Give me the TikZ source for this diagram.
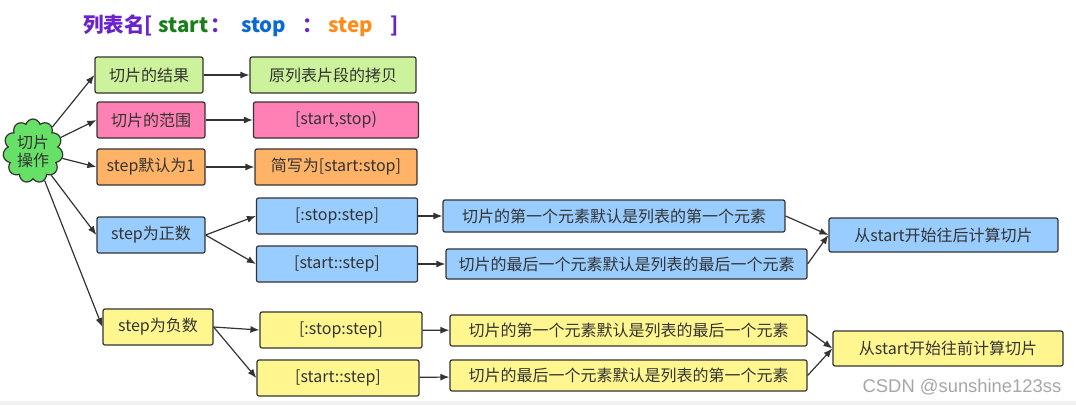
\documentclass[tikz,border=0pt]{standalone}
\usepackage{fontspec}
\setmainfont{Noto Sans CJK SC}
\newfontfamily\wmfont{Liberation Sans}
\usetikzlibrary{arrows.meta,shapes.symbols}
\definecolor{cline}{HTML}{333333}
\definecolor{cgreen}{HTML}{CCF29C}
\definecolor{cpink}{HTML}{FF80B4}
\definecolor{corange}{HTML}{FFB366}
\definecolor{cblue}{HTML}{99CCFF}
\definecolor{cyellow}{HTML}{FFF68F}
\definecolor{ccloud}{HTML}{66E066}
\definecolor{tpurple}{HTML}{6A22CC}
\definecolor{tgreen}{HTML}{1A7F1A}
\definecolor{tblue}{HTML}{0A6AD2}
\definecolor{torange}{HTML}{FF8C1A}

\begin{document}
\begin{tikzpicture}[x=1pt,y=-1pt,
  box/.style={draw=cline,line width=1.2pt,rounded corners=2pt,minimum height=36pt,inner sep=0pt,text=cline,font=\fontsize{16}{18}\selectfont},
  thin box/.style={box,minimum height=32pt},
  arr/.style={-{Latex[length=9pt,width=7pt]},draw=cline,line width=1.2pt}]
\useasboundingbox (0,0) rectangle (1076,405);
\fill[black!5] (0,401) rectangle (1076,405);
\node[anchor=west,inner sep=0pt,font=\fontsize{20.5}{24}\selectfont\bfseries] (T) at (83,26)
  {\color{tpurple}列表名[\hspace{6pt}\color{tgreen}start\hspace{2pt}\color{tpurple}：\hspace{10pt}\color{tblue}stop\hspace{16pt}\color{tpurple}：\hspace{6pt}\color{torange}step\hspace{17pt}\color{tpurple}]};
\node[cloud,cloud puffs=11,draw=cline,line width=1.2pt,fill=ccloud,text=cline,align=center,inner sep=0pt,minimum width=60pt,minimum height=64pt,font=\fontsize{16}{18}\selectfont] (op) at (33,151) {切片\\操作};
\node[box,fill=cgreen,minimum width=108pt] (res) at (149,75) {切片的结果};
\node[box,fill=cgreen,minimum width=166pt] (copy) at (333,75) {原列表片段的拷贝};
\node[box,fill=cpink,minimum width=108pt] (rng) at (151,120) {切片的范围};
\node[box,fill=cpink,minimum width=165pt] (rngv) at (336,120) {[start,stop)};
\node[box,fill=corange,minimum width=108pt] (dflt) at (151,167) {step默认为1};
\node[box,fill=corange,minimum width=162pt] (short) at (336,167) {简写为[start:stop]};
\node[box,fill=cblue,minimum width=108pt] (pos) at (151,235) {step为正数};
\node[box,fill=cblue,minimum width=161pt] (pa) at (337,216) {[:stop:step]};
\node[box,fill=cblue,minimum width=161pt] (pb) at (337,264) {[start::step]};
\node[thin box,fill=cblue,minimum width=342pt] (pa2) at (614,216) {切片的第一个元素默认是列表的第一个元素};
\node[thin box,fill=cblue,minimum width=361pt,minimum height=30pt] (pb2) at (626.5,264) {切片的最后一个元素默认是列表的最后一个元素};
\node[box,fill=cblue,minimum width=229pt,minimum height=34pt] (fwd) at (943.5,235) {从start开始往后计算切片};
\node[box,fill=cyellow,minimum width=110pt] (neg) at (158,327) {step为负数};
\node[box,fill=cyellow,minimum width=162pt] (na) at (341,330) {[:stop:step]};
\node[box,fill=cyellow,minimum width=162pt] (nb) at (338,378) {[start::step]};
\node[thin box,fill=cyellow,minimum width=357pt,minimum height=31pt] (na2) at (628.5,330.5) {切片的第一个元素默认是列表的最后一个元素};
\node[thin box,fill=cyellow,minimum width=357pt,minimum height=31pt] (nb2) at (628.5,375.5) {切片的最后一个元素默认是列表的第一个元素};
\node[box,fill=cyellow,minimum width=230pt,minimum height=35pt] (bwd) at (948,348.5) {从start开始往前计算切片};
\node[text=black!35,font=\wmfont\fontsize{18.4}{20}\selectfont] (wm) at (962,387) {CSDN @sunshine123ss};
\draw[arr] (op) -- (res.west);
\draw[arr] (op) -- (rng.west);
\draw[arr] (op) -- (dflt.west);
\draw[arr] (op) -- (pos.west);
\draw[arr] (op) -- (neg.west);
\draw[arr] (res) -- (copy);
\draw[arr] (rng) -- (rngv);
\draw[arr] (dflt) -- (short);
\draw[arr] (pos.east) -- (pa.west);
\draw[arr] (pos.east) -- (pb.west);
\draw[arr] (pa) -- (pa2);
\draw[arr] (pb) -- (pb2);
\draw[arr] (pa2.east) -- (fwd.west);
\draw[arr] (pb2.east) -- (fwd.west);
\draw[arr] (neg.east) -- (na.west);
\draw[arr] (neg.east) -- (nb.west);
\draw[arr] (na) -- (na2);
\draw[arr] (nb) -- (nb2);
\draw[arr] (na2.east) -- (bwd.west);
\draw[arr] (nb2.east) -- (bwd.west);
\end{tikzpicture}
\end{document}
